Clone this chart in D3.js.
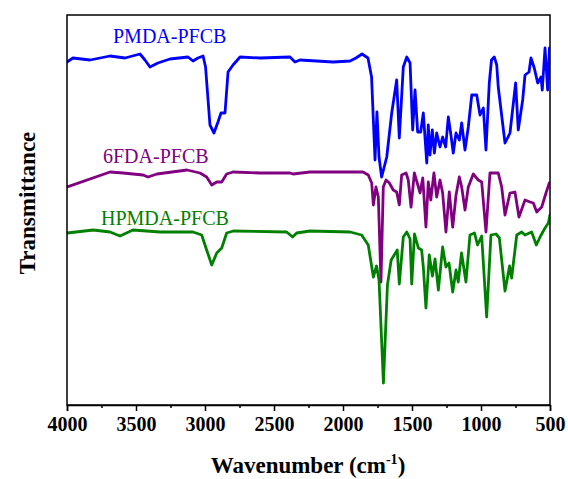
<!DOCTYPE html>
<html>
<head>
<meta charset="utf-8">
<script src="https://cdn.jsdelivr.net/npm/d3@7/dist/d3.min.js"></script>
<style>
  html, body { margin: 0; padding: 0; background: #fff; }
  svg text { font-family: "Liberation Serif", "Times New Roman", serif; }
</style>
</head>
<body>
<div id="chart"></div>
<script>
// FTIR spectra, offset transmittance (a.u.) vs wavenumber (cm-1)
const seriesNames = ["PMDA-PFCB", "6FDA-PFCB", "HPMDA-PFCB"];
const seriesColors = ["#0000ff", "#800080", "#008000"];

const pmdaWn = [4000, 3957, 3833, 3688, 3580, 3471, 3435, 3399, 3341, 3254, 3123, 3087, 3051, 3014,
  2996, 2964, 2935, 2906, 2884, 2855, 2833, 2797, 2746, 2601, 2384, 2348, 2312, 2072, 1949, 1906,
  1862, 1819, 1793, 1768, 1754, 1739, 1720, 1683, 1647, 1611, 1592, 1563, 1538, 1514, 1495, 1478,
  1459, 1437, 1418, 1393, 1382, 1370, 1353, 1338, 1321, 1297, 1278, 1256, 1237, 1220, 1201, 1181,
  1157, 1140, 1116, 1092, 1067, 1031, 1007, 983, 964, 940, 924, 904, 886, 875, 826, 790, 749, 730,
  698, 681, 652, 638, 614, 589, 565, 556, 536, 517, 504];
const pmdaT = [343, 347, 345, 349, 347, 351, 345, 338, 342, 346, 348, 344, 347, 349,
  338, 280, 272, 283, 292, 292, 333, 340, 348, 347, 348, 343, 345, 343, 344, 347,
  351, 347, 328, 245, 293, 248, 228, 248, 292, 325, 267, 338, 348, 342, 275, 315,
  273, 273, 292, 242, 280, 250, 275, 252, 272, 258, 268, 258, 288, 272, 252, 272,
  265, 282, 255, 278, 310, 310, 290, 297, 255, 322, 345, 348, 340, 318, 262, 272, 322, 275,
  305, 330, 333, 347, 337, 322, 328, 315, 357, 315, 357];

const fdaWn = [3998, 3688, 3594, 3449, 3413, 3348, 3130, 3036, 2988, 2951, 2915, 2879, 2843, 2797,
  2601, 2384, 2362, 2239, 1855, 1817, 1792, 1780, 1761, 1744, 1725, 1708, 1688, 1664, 1636, 1611,
  1592, 1575, 1543, 1527, 1507, 1483, 1462, 1442, 1422, 1399, 1382, 1364, 1341, 1321, 1297, 1278,
  1254, 1230, 1205, 1181, 1157, 1140, 1116, 1092, 1056, 1020, 995, 964, 935, 875, 850, 826, 790,
  754, 725, 681, 645, 621, 596, 560, 529, 505];
const fdaT = [218, 233, 232, 230, 228, 231, 235, 232, 228, 220, 223, 223, 231, 233,
  232, 232, 231, 233, 233, 230, 222, 200, 218, 208, 123, 218, 225, 222, 215, 213,
  200, 230, 232, 225, 198, 232, 222, 212, 227, 178, 223, 205, 232, 208, 225, 212,
  173, 213, 178, 210, 228, 218, 195, 218, 231, 225, 223, 173, 232, 232, 218, 190, 212,
  213, 188, 205, 203, 202, 193, 198, 212, 222];

const hpmdaWn = [3998, 3809, 3688, 3616, 3522, 3326, 3087, 3024, 2988, 2951, 2915, 2879, 2843, 2795,
  2408, 2365, 2336, 2239, 1949, 1865, 1817, 1780, 1757, 1739, 1707, 1678, 1651, 1620, 1607, 1592,
  1563, 1538, 1514, 1502, 1482, 1454, 1430, 1418, 1399, 1375, 1352, 1333, 1309, 1278, 1254, 1232,
  1205, 1181, 1165, 1141, 1109, 1080, 1047, 1025, 995, 959, 928, 891, 867, 826, 793, 778, 741,
  705, 681, 633, 599, 572, 536, 512, 500];
const hpmdaT = [172, 175, 173, 169, 175, 173, 173, 170, 155, 140, 152, 157, 172, 174,
  173, 168, 172, 174, 173, 170, 160, 128, 139, 125, 22, 120, 145, 152, 155, 121,
  168, 173, 166, 121, 171, 157, 155, 138, 97, 150, 129, 146, 115, 158, 138, 142,
  113, 135, 123, 152, 123, 170, 172, 160, 169, 88, 170, 171, 167, 114, 139, 127, 170,
  173, 170, 173, 160, 168, 177, 182, 190];

const labelPos = [[113, 43], [103, 163], [101, 225]]; // text anchors (px)

const xTicks = [4000, 3500, 3000, 2500, 2000, 1500, 1000, 500];
const xMinorTicks = d3.range(3750, 500, -500);

const W = 568, H = 479;
const margin = { top: 15, right: 18, bottom: 74, left: 67 };
const iw = W - margin.left - margin.right;
const ih = H - margin.top - margin.bottom;

const svg = d3.select("#chart").append("svg")
  .attr("width", W).attr("height", H);

const g = svg.append("g")
  .attr("transform", `translate(${margin.left},${margin.top})`);

const x = d3.scaleLinear().domain([4000, 500]).range([0, iw]);
const y = d3.scaleLinear().domain([0, 390]).range([ih, 0]);

const series = [
  { name: seriesNames[0], color: seriesColors[0], wn: pmdaWn, t: pmdaT },
  { name: seriesNames[1], color: seriesColors[1], wn: fdaWn, t: fdaT },
  { name: seriesNames[2], color: seriesColors[2], wn: hpmdaWn, t: hpmdaT }
];

const line = d3.line()
  .x(d => x(d[0]))
  .y(d => y(d[1]))
  .curve(d3.curveLinear);

g.append("defs").append("clipPath").attr("id", "clip")
  .append("rect").attr("width", iw).attr("height", ih);

series.forEach((s, i) => {
  g.append("path")
    .datum(s.wn.map((w, k) => [w, s.t[k]]))
    .attr("clip-path", "url(#clip)")
    .attr("fill", "none")
    .attr("stroke", s.color)
    .attr("stroke-width", 2.8)
    .attr("stroke-linejoin", "round")
    .attr("stroke-linecap", "round")
    .attr("d", line);

  svg.append("text")
    .attr("x", labelPos[i][0]).attr("y", labelPos[i][1])
    .attr("fill", s.color)
    .style("font-size", "20px")
    .text(s.name);
});

// frame
g.append("rect")
  .attr("width", iw).attr("height", ih)
  .attr("fill", "none").attr("stroke", "#000").attr("stroke-width", 1.5);

// x axis
const xAxis = g.append("g")
  .attr("transform", `translate(0,${ih})`)
  .call(d3.axisBottom(x).tickValues(xTicks).tickSize(6).tickPadding(6).tickFormat(d3.format("d")));
xAxis.select(".domain").attr("stroke-width", 1.5);
xAxis.selectAll(".tick line").attr("stroke-width", 1.5);
xAxis.selectAll("text")
  .style("font-family", '"Liberation Serif", serif')
  .style("font-size", "20px").style("font-weight", "bold").attr("fill", "#000");

const xMinor = g.append("g")
  .attr("transform", `translate(0,${ih})`)
  .call(d3.axisBottom(x).tickValues(xMinorTicks).tickSize(3).tickFormat(""));
xMinor.select(".domain").remove();
xMinor.selectAll(".tick line").attr("stroke-width", 1.5);

// axis titles
const title = svg.append("text")
  .attr("x", 308).attr("y", 473)
  .attr("text-anchor", "middle")
  .style("font-size", "23px").style("font-weight", "bold");
title.append("tspan").text("Wavenumber (cm");
title.append("tspan").attr("dy", -9).style("font-size", "14px").text("-1");
title.append("tspan").attr("dy", 9).text(")");

svg.append("text")
  .attr("transform", `translate(35,203) rotate(-90)`)
  .attr("text-anchor", "middle")
  .style("font-size", "23px").style("font-weight", "bold")
  .text("Transmittance");
</script>
</body>
</html>
